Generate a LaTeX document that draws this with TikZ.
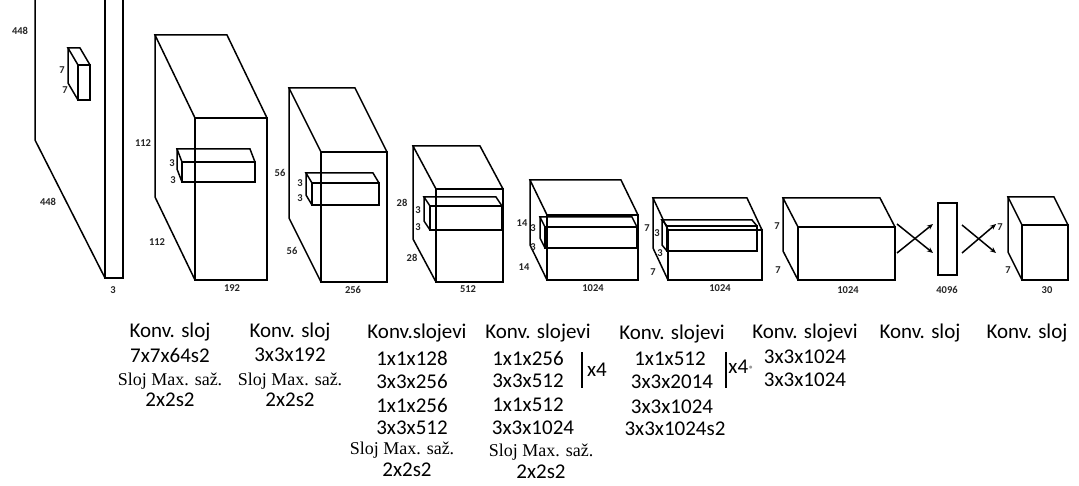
\documentclass[tikz,border=0pt]{standalone}
\usepackage{fontspec}
\newfontfamily\calfont{Carlito}
\newfontfamily\serfont{Liberation Serif}
\usetikzlibrary{arrows.meta}
\newcommand\cubo[6]{%
  \draw (#1,#2) rectangle (#3,#4);
  \draw (#1,#2) -- ({#1+#5},{#2+#6}) -- ({#3+#5},{#2+#6}) -- (#3,#2);
  \draw ({#1+#5},{#2+#6}) -- ({#1+#5},{#4+#6}) -- (#1,#4);
}
\begin{document}
\begin{tikzpicture}[x=1pt,y=-1pt,
  line width=1.5pt, line join=miter,
  lab/.style={font=\calfont\fontsize{21}{24}\selectfont, inner sep=0pt},
  ser/.style={font=\serfont\fontsize{18}{20}\selectfont, inner sep=0pt},
  dim/.style={font=\calfont\bfseries\fontsize{10.5}{12}\selectfont, text=black!85, inner sep=0pt},
  conn/.style={line width=1.5pt, -{Stealth[length=6pt,width=5pt]}}]
\useasboundingbox (0,0) rectangle (1079,486);
\fill[white] (0,0) rectangle (1079,486);
\begin{scope}
\clip (0,0) rectangle (1079,486);
% block 1 (input)
\draw (35,-5) -- (35,140) -- (105,278);
\draw (105,-5) -- (105,278) -- (123,278) -- (123,-5);
\end{scope}
\cubo{78}{65}{90}{100}{-10}{-17}
% block 2
\cubo{195}{118}{267}{280}{-40}{-83}
\cubo{182}{162}{255}{182}{-5}{-13}
% block 3
\cubo{321}{152}{387}{282}{-32}{-64}
\cubo{312}{183}{379}{205}{-6}{-10}
% block 4
\cubo{436}{189}{503}{282}{-23}{-43}
\cubo{430}{206}{502}{230}{-6}{-9}
% block 5
\cubo{547}{215}{638}{280}{-17}{-35}
\cubo{545}{227}{637}{248}{-5}{-10}
% block 6
\cubo{668}{230}{762}{280}{-15}{-32}
\cubo{667}{226}{757}{251}{-5}{-6}
% block 7
\cubo{798}{227}{895}{280}{-15}{-29}
% fully connected column
\draw (938,203) rectangle (957,275);
% block 8
\cubo{1022}{225}{1068}{280}{-14}{-28}
% crossing connectors
\coordinate (a1) at (897,224); \coordinate (a2) at (933,253);
\coordinate (a3) at (897,253); \coordinate (a4) at (933,224);
\coordinate (b1) at (962,225); \coordinate (b2) at (996,253);
\coordinate (b3) at (962,253); \coordinate (b4) at (996,224);
\draw[conn] (a1) -- (a2);
\draw[conn] (a3) -- (a4);
\draw[conn] (b1) -- (b2);
\draw[conn] (b3) -- (b4);
% dimension labels
\node[dim] (d1) at (20,31) {448};
\node[dim] (d2) at (62,70) {7};
\node[dim] (d3) at (65,90) {7};
\node[dim] (d4) at (48,202) {448};
\node[dim] (d5) at (113,290) {3};
\node[dim] (d6) at (143,143) {112};
\node[dim] (d7) at (172,163) {3};
\node[dim] (d8) at (173,180) {3};
\node[dim] (d9) at (157,242) {112};
\node[dim] (d10) at (232,288) {192};
\node[dim] (d11) at (280,173) {56};
\node[dim] (d12) at (300,183) {3};
\node[dim] (d13) at (300,198) {3};
\node[dim] (d14) at (292,251) {56};
\node[dim] (d15) at (353,290) {256};
\node[dim] (d16) at (402,203) {28};
\node[dim] (d17) at (418,210) {3};
\node[dim] (d18) at (418,227) {3};
\node[dim] (d19) at (412,258) {28};
\node[dim] (d20) at (468,289) {512};
\node[dim] (d21) at (522,223) {14};
\node[dim] (d22) at (533,228) {3};
\node[dim] (d23) at (533,247) {3};
\node[dim] (d24) at (524,267) {14};
\node[dim] (d25) at (593,288) {1024};
\node[dim] (d26) at (647,228) {7};
\node[dim] (d27) at (657,233) {3};
\node[dim] (d28) at (660,253) {3};
\node[dim] (d29) at (653,272) {7};
\node[dim] (d30) at (720,288) {1024};
\node[dim] (d31) at (777,226) {7};
\node[dim] (d32) at (778,270) {7};
\node[dim] (d33) at (848,290) {1024};
\node[dim] (d34) at (947,290) {4096};
\node[dim] (d35) at (1000,227) {7};
\node[dim] (d36) at (1008,270) {7};
\node[dim] (d37) at (1047,290) {30};
% column 1
\node[lab] (c1a) at (170,332) {Konv. sloj};
\node[lab] (c1b) at (170,355) {7x7x64s2};
\node[ser] (c1c) at (170,381) {Sloj Max. saž.};
\node[lab] (c1d) at (170,400) {2x2s2};
% column 2
\node[lab] (c2a) at (290,332) {Konv. sloj};
\node[lab] (c2b) at (290,355) {3x3x192};
\node[ser] (c2c) at (290,381) {Sloj Max. saž.};
\node[lab] (c2d) at (290,400) {2x2s2};
% column 3
\node[lab] (c3a) at (417,333) {Konv.slojevi};
\node[lab] (c3b) at (412,358) {1x1x128};
\node[lab] (c3c) at (412,381) {3x3x256};
\node[lab] (c3d) at (412,405) {1x1x256};
\node[lab] (c3e) at (412,428) {3x3x512};
\node[ser] (c3f) at (402,450) {Sloj Max. saž.};
\node[lab] (c3g) at (407,470) {2x2s2};
% column 4
\node[lab] (c4a) at (538,333) {Konv. slojevi};
\node[lab] (c4b) at (528,358) {1x1x256};
\node[lab] (c4c) at (528,381) {3x3x512};
\node[lab] (c4d) at (528,405) {1x1x512};
\node[lab] (c4e) at (533,428) {3x3x1024};
\node[ser] (c4f) at (541,452) {Sloj Max. saž.};
\node[lab] (c4g) at (541,472) {2x2s2};
\coordinate (bar1t) at (582,352); \coordinate (bar1b) at (582,388);
\draw (bar1t) -- (bar1b);
\node[lab] (c4x) at (597,370) {x4};
% column 5
\node[lab] (c5a) at (672,334) {Konv. slojevi};
\node[lab] (c5b) at (670,359) {1x1x512};
\node[lab] (c5c) at (672,382) {3x3x2014};
\node[lab] (c5d) at (672,407) {3x3x1024};
\node[lab] (c5e) at (675,429) {3x3x1024s2};
\coordinate (bar2t) at (726,352); \coordinate (bar2b) at (726,388);
\draw (bar2t) -- (bar2b);
\node[lab] (c5x) at (741,367) {x4\textcolor{black!40}{·}};
% column 6
\node[lab] (c6a) at (805,333) {Konv. slojevi};
\node[lab] (c6b) at (805,357) {3x3x1024};
\node[lab] (c6c) at (805,380) {3x3x1024};
% columns 7, 8
\node[lab] (c7a) at (920,333) {Konv. sloj};
\node[lab] (c8a) at (1027,333) {Konv. sloj};
\end{tikzpicture}
\end{document}
